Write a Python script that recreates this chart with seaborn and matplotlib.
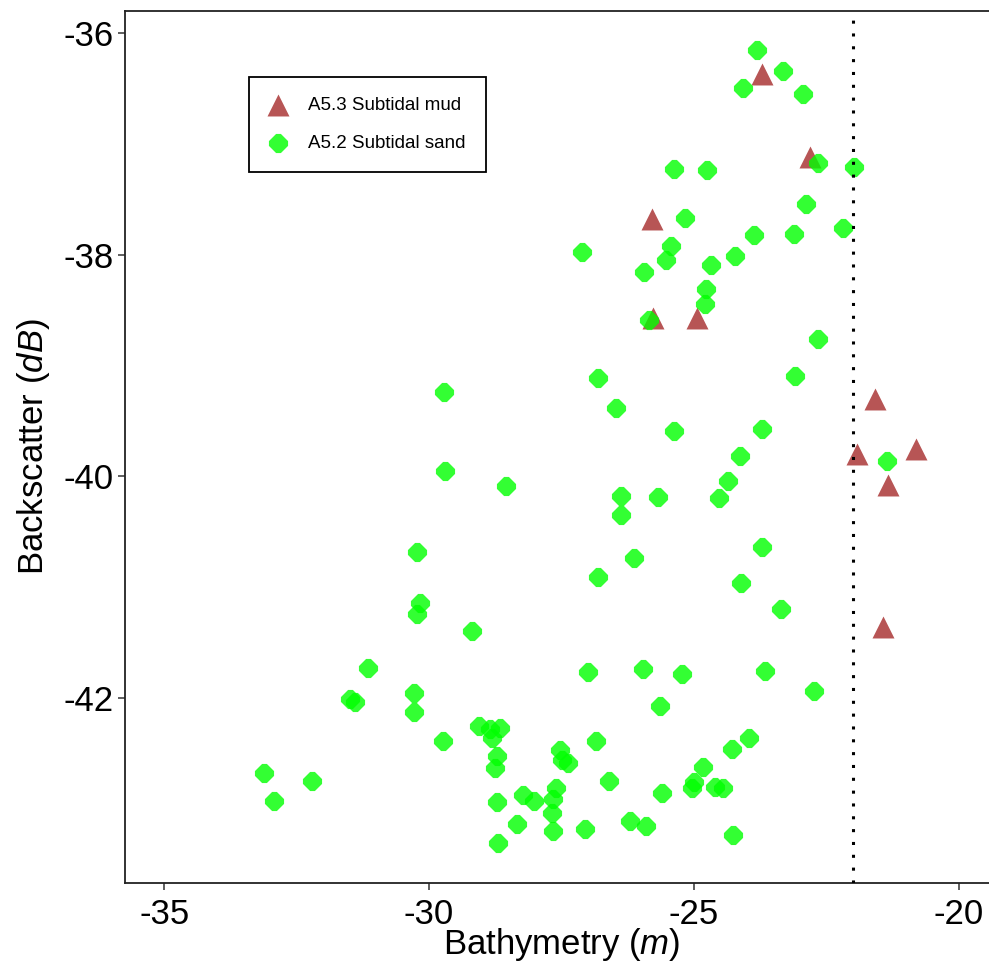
import matplotlib
matplotlib.use("Agg")
import matplotlib.pyplot as plt
import seaborn as sns
import pandas as pd

# ---- data ----
mud_label = "A5.3 Subtidal mud"
sand_label = "A5.2 Subtidal sand"

mud_x = [-23.71, -22.80, -25.79, -25.78, -24.94, -21.58, -20.80, -21.92, -21.33, -21.43]
mud_y = [-36.37, -37.12, -37.68, -38.57, -38.57, -39.30, -39.75, -39.80, -40.08, -41.36]

sand_x = [-23.81, -23.31, -24.08, -22.95, -22.66, -21.97, -25.38, -24.75, -22.89, -25.17,
          -22.19, -23.87, -23.11, -27.12, -25.44, -24.22, -25.53, -24.67, -25.94, -24.78,
          -24.80, -25.85,
          -22.66, -26.82, -23.10, -26.47, -25.38, -23.72, -24.13, -21.36, -24.35, -26.38,
          -25.67, -24.52, -26.38, -23.72, -26.14, -26.82, -24.11, -23.36,
          -29.72, -29.70, -28.54, -30.23, -30.17, -30.23,
          -29.19, -31.15, -31.50, -31.40, -30.29, -30.29, -29.06, -28.85, -28.67, -28.81,
          -29.74, -28.72, -28.76, -27.53, -27.50, -27.38, -33.12, -32.21, -32.92, -28.72,
          -28.23, -28.02, -27.60, -27.67, -27.68, -28.34, -27.66, -28.69,
          -27.00, -25.97, -25.23, -23.66, -22.74, -25.64, -26.85, -23.96, -24.28, -24.82,
          -26.60, -25.00, -25.03, -24.61, -24.46, -25.61, -26.21, -25.91, -27.06, -24.26]
sand_y = [-36.15, -36.34, -36.50, -36.55, -37.17, -37.21, -37.23, -37.24, -37.54, -37.67,
          -37.76, -37.82, -37.81, -37.98, -37.92, -38.01, -38.05, -38.09, -38.16, -38.31,
          -38.45, -38.59,
          -38.76, -39.11, -39.10, -39.38, -39.59, -39.57, -39.82, -39.86, -40.04, -40.18,
          -40.19, -40.20, -40.35, -40.64, -40.74, -40.91, -40.96, -41.20,
          -39.24, -39.95, -40.09, -40.68, -41.14, -41.24,
          -41.40, -41.73, -42.01, -42.04, -41.96, -42.13, -42.25, -42.28, -42.27, -42.36,
          -42.39, -42.52, -42.63, -42.47, -42.56, -42.59, -42.68, -42.75, -42.93, -42.94,
          -42.88, -42.93, -42.81, -42.91, -43.04, -43.14, -43.20, -43.31,
          -41.77, -41.74, -41.78, -41.76, -41.94, -42.07, -42.39, -42.36, -42.46, -42.62,
          -42.75, -42.76, -42.81, -42.80, -42.81, -42.86, -43.11, -43.16, -43.18, -43.24]

threshold_x = -22.0
x_ticks = [-35, -30, -25, -20]
y_ticks = [-42, -40, -38, -36]

mud = pd.DataFrame({"Bathymetry": mud_x, "Backscatter": mud_y})
sand = pd.DataFrame({"Bathymetry": sand_x, "Backscatter": sand_y})

# ---- style ----
sns.set_style("white")
plt.rcParams["font.family"] = ["Liberation Sans", "DejaVu Sans"]
plt.rcParams["mathtext.fontset"] = "custom"
plt.rcParams["mathtext.rm"] = "Liberation Sans"
plt.rcParams["mathtext.it"] = "Liberation Sans:italic"
plt.rcParams["text.color"] = "black"
plt.rcParams["axes.labelcolor"] = "black"

fig = plt.figure(figsize=(9.89, 9.74), dpi=100)
ax = fig.add_axes([0.1264, 0.0934, 0.8736, 0.8956])

# rounded-diamond marker (diamond with clipped tips)
sand_marker = [(0.8, 0.2), (0.2, 0.8), (-0.2, 0.8), (-0.8, 0.2),
               (-0.8, -0.2), (-0.2, -0.8), (0.2, -0.8), (0.8, -0.2), (0.8, 0.2)]

sns.scatterplot(data=mud, x="Bathymetry", y="Backscatter", ax=ax, marker="^",
                s=250, color="#A52A2A", alpha=0.8, linewidth=0, label=mud_label, zorder=2)
sns.scatterplot(data=sand, x="Bathymetry", y="Backscatter", ax=ax, marker=sand_marker,
                s=190, color="#00FF00", alpha=0.8, linewidth=0, label=sand_label, zorder=2)

ax.axvline(threshold_x, color="black", lw=2.2, linestyle=(0, (1, 3.2)),
           dash_capstyle="butt", zorder=3)

ax.set_xlim(-35.74, -19.43)
ax.set_ylim(-43.67, -35.80)
ax.set_xticks(x_ticks)
ax.set_yticks(y_ticks)
ax.set_xticklabels([str(v) for v in x_ticks])
ax.set_yticklabels([str(v) for v in y_ticks])

for side in ["left", "top", "bottom"]:
    ax.spines[side].set_color("#222222")
    ax.spines[side].set_linewidth(1.3)
ax.spines["right"].set_visible(False)

ax.tick_params(axis="both", which="major", direction="out", length=5, width=1.1,
               color="#333333", labelsize=25, labelcolor="black", bottom=True, left=True)
ax.tick_params(axis="x", pad=6)
ax.tick_params(axis="y", pad=3)

ax.set_xlabel("Bathymetry ($m$)", fontsize=25, color="black")
ax.set_ylabel("Backscatter ($dB$)", fontsize=25, color="black")
ax.xaxis.set_label_coords(0.506, -0.049)
ax.yaxis.set_label_coords(-0.085, 0.5)

leg = ax.legend(loc="upper left", bbox_to_anchor=(0.1435, 0.9243), borderaxespad=0,
                fontsize=13.5, frameon=True, fancybox=False, framealpha=1,
                edgecolor="black", borderpad=1.08, handlelength=0.96,
                handletextpad=1.12, labelspacing=1.11)
leg.get_frame().set_linewidth(1.3)
for t in leg.get_texts():
    t.set_color("black")

fig.savefig("out.png", dpi=100)
